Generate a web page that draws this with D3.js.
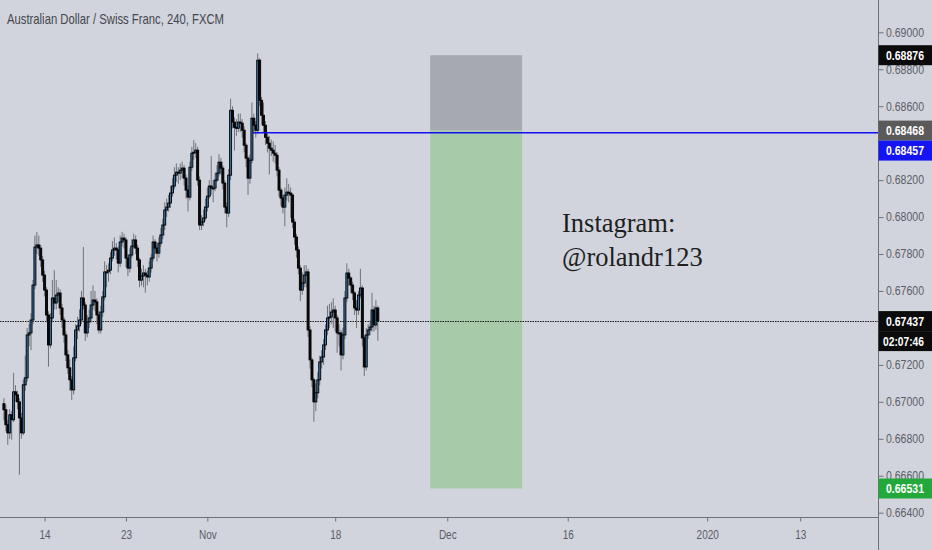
<!DOCTYPE html>
<html><head><meta charset="utf-8">
<script src="https://cdn.jsdelivr.net/npm/d3@7"></script>
<style>html,body{margin:0;padding:0;background:#d1d4dc;}svg{display:block}</style>
</head><body><svg id="c" width="932" height="550"></svg>
<script>
// ---- data ----
const title = "Australian Dollar / Swiss Franc, 240, FXCM";
const firstOpen = 0.66990;
const firstCandleDay = -3.5;     // trading-day index of first 4h bar (0 = 14 Oct)
const candlesPerDay = 6;
const closes = [0.66957,0.66876,0.66832,0.66930,0.66903,0.67054,0.67038,0.67000,0.66913,0.66832,
0.67092,0.67130,0.67362,0.67373,0.67443,0.67632,0.67838,0.67849,0.67832,0.67768,
0.67686,0.67605,0.67470,0.67308,0.67454,0.67562,0.67535,0.67578,0.67589,0.67508,
0.67443,0.67362,0.67254,0.67184,0.67119,0.67065,0.67238,0.67389,0.67411,0.67443,
0.67562,0.67524,0.67373,0.67432,0.67454,0.67524,0.67551,0.67541,0.67470,0.67389,
0.67486,0.67568,0.67703,0.67703,0.67713,0.67778,0.67822,0.67832,0.67822,0.67751,
0.67865,0.67886,0.67876,0.67778,0.67724,0.67795,0.67843,0.67876,0.67832,0.67768,
0.67659,0.67681,0.67697,0.67686,0.67676,0.67724,0.67778,0.67865,0.67832,0.67805,
0.67859,0.67903,0.67957,0.68038,0.68054,0.68076,0.68130,0.68168,0.68227,0.68243,
0.68238,0.68254,0.68265,0.68211,0.68146,0.68108,0.68270,0.68346,0.68351,0.68362,
0.68200,0.67957,0.67973,0.67995,0.68054,0.68113,0.68168,0.68157,0.68157,0.68200,
0.68238,0.68297,0.68265,0.68184,0.68054,0.68022,0.68227,0.68578,0.68514,0.68486,
0.68481,0.68514,0.68508,0.68470,0.68389,0.68319,0.68211,0.68308,0.68535,0.68497,
0.68470,0.68849,0.68632,0.68551,0.68497,0.68432,0.68400,0.68373,0.68362,0.68346,
0.68335,0.68254,0.68146,0.68103,0.68054,0.68119,0.68135,0.68130,0.68119,0.67973,
0.67892,0.67822,0.67724,0.67605,0.67643,0.67686,0.67703,0.67389,0.67227,0.67119,
0.67000,0.67049,0.67119,0.67216,0.67243,0.67308,0.67389,0.67454,0.67459,0.67486,
0.67497,0.67454,0.67373,0.67373,0.67254,0.67362,0.67562,0.67697,0.67670,0.67632,
0.67589,0.67508,0.67497,0.67578,0.67616,0.67346,0.67189,0.67362,0.67389,0.67405,
0.67497,0.67416,0.67508,0.67437];
const highs = [0.67020,0.66985,0.66900,0.66960,0.66950,0.67157,0.67090,0.67060,0.67020,0.66940,
0.67120,0.67250,0.67400,0.67420,0.67480,0.67660,0.67900,0.67919,0.67900,0.67850,
0.67790,0.67710,0.67620,0.67490,0.67480,0.67660,0.67713,0.67660,0.67620,0.67610,
0.67530,0.67460,0.67380,0.67280,0.67230,0.67140,0.67300,0.67420,0.67460,0.67500,
0.67600,0.67838,0.67540,0.67470,0.67500,0.67600,0.67630,0.67600,0.67560,0.67490,
0.67520,0.67600,0.67760,0.67740,0.67750,0.67810,0.67870,0.67890,0.67860,0.67840,
0.67900,0.67920,0.67910,0.67890,0.67800,0.67830,0.67880,0.67910,0.67900,0.67850,
0.67780,0.67720,0.67740,0.67720,0.67710,0.67760,0.67800,0.67900,0.67880,0.67850,
0.67890,0.67940,0.67990,0.68080,0.68100,0.68120,0.68170,0.68210,0.68270,0.68290,
0.68270,0.68290,0.68300,0.68280,0.68230,0.68170,0.68300,0.68380,0.68416,0.68400,
0.68380,0.68220,0.68010,0.68040,0.68100,0.68160,0.68200,0.68330,0.68200,0.68240,
0.68280,0.68340,0.68320,0.68280,0.68200,0.68080,0.68260,0.68640,0.68600,0.68540,
0.68530,0.68560,0.68560,0.68530,0.68490,0.68400,0.68330,0.68340,0.68620,0.68560,
0.68520,0.68887,0.68860,0.68650,0.68620,0.68520,0.68460,0.68440,0.68420,0.68410,
0.68390,0.68350,0.68270,0.68160,0.68120,0.68160,0.68210,0.68180,0.68160,0.68130,
0.67990,0.67910,0.67840,0.67740,0.67700,0.67740,0.67740,0.67720,0.67410,0.67240,
0.67130,0.67100,0.67160,0.67250,0.67280,0.67340,0.67420,0.67520,0.67530,0.67540,
0.67560,0.67520,0.67470,0.67420,0.67390,0.67400,0.67600,0.67750,0.67720,0.67680,
0.67650,0.67600,0.67550,0.67600,0.67720,0.67630,0.67360,0.67400,0.67420,0.67440,
0.67590,0.67520,0.67550,0.67520];
const lows = [0.66900,0.66840,0.66767,0.66800,0.66795,0.66890,0.67000,0.66960,0.66605,0.66800,
0.66820,0.67060,0.67110,0.67300,0.67280,0.67420,0.67610,0.67800,0.67790,0.67730,
0.67650,0.67570,0.67430,0.67190,0.67290,0.67430,0.67500,0.67500,0.67540,0.67470,
0.67400,0.67320,0.67220,0.67150,0.67060,0.67011,0.67040,0.67220,0.67340,0.67380,
0.67420,0.67500,0.67330,0.67350,0.67400,0.67430,0.67500,0.67490,0.67420,0.67370,
0.67370,0.67460,0.67550,0.67620,0.67650,0.67690,0.67760,0.67790,0.67770,0.67700,
0.67730,0.67840,0.67830,0.67730,0.67680,0.67700,0.67780,0.67830,0.67800,0.67730,
0.67620,0.67630,0.67620,0.67590,0.67630,0.67650,0.67700,0.67760,0.67800,0.67760,
0.67780,0.67840,0.67880,0.67930,0.68000,0.68030,0.68050,0.68110,0.68150,0.68190,
0.68180,0.68200,0.68210,0.68170,0.68100,0.68030,0.68090,0.68250,0.68310,0.68320,
0.68170,0.67930,0.67930,0.67950,0.67980,0.68030,0.68100,0.68120,0.68080,0.68140,
0.68190,0.68220,0.68230,0.68150,0.68020,0.67945,0.68000,0.68200,0.68480,0.68360,
0.68440,0.68460,0.68460,0.68430,0.68350,0.68270,0.68120,0.68180,0.68290,0.68450,
0.68430,0.68450,0.68600,0.68500,0.68460,0.68390,0.68350,0.68230,0.68330,0.68300,
0.68290,0.68220,0.68110,0.68060,0.68020,0.67950,0.68090,0.68080,0.67995,0.67940,
0.67850,0.67780,0.67690,0.67545,0.67580,0.67620,0.67620,0.67350,0.67180,0.67080,
0.66892,0.66950,0.67020,0.67090,0.67180,0.67200,0.67280,0.67360,0.67400,0.67420,
0.67400,0.67380,0.67265,0.67300,0.67170,0.67230,0.67340,0.67540,0.67630,0.67590,
0.67550,0.67470,0.67400,0.67470,0.67560,0.67300,0.67140,0.67170,0.67340,0.67360,
0.67380,0.67380,0.67390,0.67330];

const timeTickLabels = ["14","23","Nov","18","Dec","16","2020","13"];
const timeTickDays   = [0, 7, 14, 25, 34.64, 45, 57, 65];
const priceTicks = [0.690,0.688,0.686,0.684,0.682,0.680,0.678,0.676,0.674,0.672,0.670,0.668,0.666,0.664];

const lastPrice = 0.67437;
const countdown = "02:07:46";
const positionTop = 0.68876;
const positionEntry = 0.68468;
const positionTarget = 0.66531;
const positionDays = [33.17, 41.08];
const hLinePrice = 0.68457;
const hLineStartDay = 17.95;
const markerPrices = [0.68876, 0.68468, 0.68457, 0.67437, 0.66531];
const noteLines = ["Instagram:", "@rolandr123"];

// ---- layout ----
const W = 932, H = 550, axisX = 878.5, axisY = 517.5;
const svg = d3.select("#c");
const x = d3.scaleLinear().domain([0, 65]).range([44.6, 800.2]);
const y = d3.scaleLinear().domain([0.664, 0.690]).range([512.7, 32.3]);

svg.append("rect").attr("width", W).attr("height", H).attr("fill", "#d1d4dc");

// position tool
const px0 = x(positionDays[0]), px1 = x(positionDays[1]);
svg.append("rect").attr("x", px0).attr("width", px1 - px0)
  .attr("y", y(positionTop)).attr("height", y(positionEntry) - y(positionTop))
  .attr("fill", "#a6a9af");
svg.append("rect").attr("x", px0).attr("width", px1 - px0)
  .attr("y", y(positionEntry)).attr("height", y(positionTarget) - y(positionEntry))
  .attr("fill", "#a7cba9");

// last price dotted line
svg.append("line").attr("x1", 0).attr("x2", axisX).attr("y1", Math.round(y(lastPrice)) + 0.5).attr("y2", Math.round(y(lastPrice)) + 0.5)
  .attr("stroke", "#1a1a1a").attr("stroke-width", 1).attr("stroke-dasharray", "1.5,1");

// candles
const candles = closes.map((c, i) => ({
  day: firstCandleDay + i / candlesPerDay,
  o: i === 0 ? firstOpen : closes[i - 1], c, h: highs[i], l: lows[i]
}));
const g = svg.append("g");
g.selectAll("line.w").data(candles).enter().append("line")
  .attr("x1", d => x(d.day)).attr("x2", d => x(d.day))
  .attr("y1", d => y(d.h)).attr("y2", d => y(d.l))
  .attr("stroke", "#6f727a").attr("stroke-width", 1);
g.selectAll("rect.b").data(candles).enter().append("rect")
  .attr("x", d => x(d.day) - 1).attr("width", 2)
  .attr("y", d => y(Math.max(d.o, d.c)))
  .attr("height", d => Math.max(1, Math.abs(y(d.o) - y(d.c))))
  .attr("fill", d => d.c >= d.o ? "#3571a6" : "#0a0a0a")
  .attr("stroke", "#000").attr("stroke-width", 0.9);

// horizontal blue line
svg.append("line").attr("x1", x(hLineStartDay)).attr("x2", axisX)
  .attr("y1", y(hLinePrice)).attr("y2", y(hLinePrice))
  .attr("stroke", "#1010f0").attr("stroke-width", 1.5);

// note text
const note = svg.append("text").attr("x", 562).attr("y", 232)
  .attr("font-family", "'Liberation Serif', 'Times New Roman', serif")
  .attr("font-size", 26.5).attr("fill", "#1e1e1e");
noteLines.forEach((t, i) => note.append("tspan").attr("x", 562).attr("dy", i ? 34 : 0).text(t));

// title
svg.append("text").attr("x", 7).attr("y", 24).text(title)
  .attr("font-family", "'Liberation Sans', Arial, sans-serif").attr("font-size", 15)
  .attr("fill", "#43464e").attr("textLength", 217).attr("lengthAdjust", "spacingAndGlyphs");

// axes lines
svg.append("line").attr("x1", axisX).attr("x2", axisX).attr("y1", 0).attr("y2", H)
  .attr("stroke", "#6d7079").attr("stroke-width", 1);
svg.append("line").attr("x1", 0).attr("x2", axisX).attr("y1", axisY).attr("y2", axisY)
  .attr("stroke", "#6d7079").attr("stroke-width", 1);

// price marker boxes (positions computed first so hidden tick labels can be dropped)
const boxH = 20;
let prevBottom = -Infinity;
const boxes = markerPrices.map((p, i) => {
  let top = y(p) - boxH / 2;
  if (top < prevBottom) top = prevBottom;
  prevBottom = top + boxH;
  return { p, i, top, h: p === lastPrice ? 2 * boxH : boxH };
});

// right price axis
const ya = svg.append("g").attr("transform", `translate(${axisX},0)`)
  .call(d3.axisRight(y).tickValues(priceTicks).tickSize(5).tickFormat(d3.format(".5f")));
ya.select(".domain").remove();
ya.selectAll(".tick line").attr("stroke", "#6d7079");
ya.selectAll(".tick text").attr("x", 7.5).attr("fill", "#5a5d66")
  .attr("font-family", "'Liberation Sans', Arial, sans-serif").attr("font-size", 12)
  .attr("textLength", 38).attr("lengthAdjust", "spacingAndGlyphs");
// labels whose centre falls under a marker box are hidden in the reference
ya.selectAll(".tick").filter(d => boxes.some(b => y(d) >= b.top - 1 && y(d) <= b.top + b.h + 1))
  .select("text").remove();

// bottom time axis
const xa = svg.append("g").attr("transform", `translate(0,${axisY})`)
  .call(d3.axisBottom(x).tickValues(timeTickDays).tickSize(4).tickFormat((d, i) => timeTickLabels[i]));
xa.select(".domain").remove();
xa.selectAll(".tick line").attr("stroke", "#6d7079");
xa.selectAll(".tick text").attr("y", 13).attr("fill", "#5a5d66")
  .attr("font-family", "'Liberation Sans', Arial, sans-serif").attr("font-size", 12.5)
  .attr("transform", "scale(0.8,1)");

// price marker labels on axis
const markerFill = ["#0b0b0b", "#5a5a5a", "#1414f5", "#0b0b0b", "#23a93b"];
boxes.forEach(b => {
  svg.append("rect").attr("x", axisX).attr("y", b.top).attr("width", W - axisX).attr("height", boxH)
    .attr("fill", markerFill[b.i]);
  svg.append("text").attr("x", 886).attr("y", b.top + 14.5).text(d3.format(".5f")(b.p))
    .attr("fill", "#fff").attr("font-family", "'Liberation Sans', Arial, sans-serif")
    .attr("font-size", 12.5).attr("font-weight", "bold")
    .attr("textLength", 38).attr("lengthAdjust", "spacingAndGlyphs");
  if (b.p === lastPrice) {
    svg.append("rect").attr("x", axisX).attr("y", b.top + boxH).attr("width", W - axisX).attr("height", boxH)
      .attr("fill", "#0b0b0b");
    svg.append("text").attr("x", 883).attr("y", b.top + boxH + 14.5).text(countdown)
      .attr("fill", "#fff").attr("font-family", "'Liberation Sans', Arial, sans-serif")
      .attr("font-size", 12.5).attr("font-weight", "bold")
      .attr("textLength", 41).attr("lengthAdjust", "spacingAndGlyphs");
  }
});
</script></body></html>
